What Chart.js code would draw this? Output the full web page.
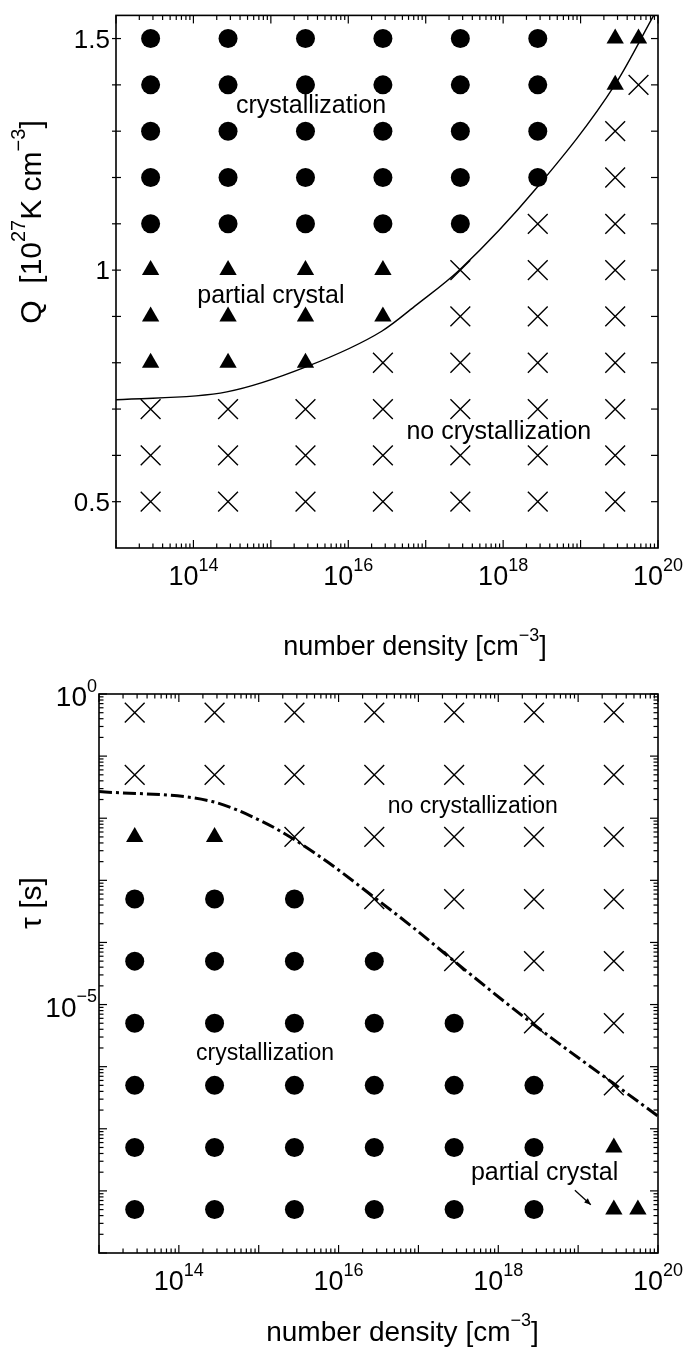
<!DOCTYPE html>
<html>
<head>
<meta charset="utf-8">
<script src="https://cdn.jsdelivr.net/npm/chart.js@4.4.1/dist/chart.umd.min.js"></script>
<style>
  html, body { margin: 0; padding: 0; background: #fff; }
  #wrap { position: relative; width: 689px; height: 1354px; }
  .box { position: absolute; left: 0; width: 689px; }
  #topBox { top: 0; height: 670px; }
  #botBox { top: 660px; height: 694px; }
</style>
</head>
<body>
<div id="wrap">
  <div class="box" id="topBox"><canvas id="qChart" width="689" height="670"></canvas></div>
  <div class="box" id="botBox"><canvas id="tauChart" width="689" height="694"></canvas></div>
</div>
<script>
// number densities of the runs [cm^-3], one per column
var densities = [2.8e13, 2.8e14, 2.8e15, 2.8e16, 2.8e17, 2.8e18, 2.8e19, 5.6e19];

// top panel: heating rate Q rows, outcome per column
// o = crystallization, ^ = partial crystal, x = no crystallization, - = no run
var qRows = [1.5, 1.4, 1.3, 1.2, 1.1, 1.0, 0.9, 0.8, 0.7, 0.6, 0.5];
var qOutcome = [
  'oooooo^^',
  'oooooo^x',
  'oooooox-',
  'oooooox-',
  'oooooxx-',
  '^^^^xxx-',
  '^^^^xxx-',
  '^^^xxxx-',
  'xxxxxxx-',
  'xxxxxxx-',
  'xxxxxxx-'
];
// boundary curve, top panel
var qCurveN = [1e13, 2.7e14, 2.95e15, 2.7e16, 7.6e16, 2.75e17, 2.75e18, 2.8e19, 8.8e19];
var qCurveQ = [0.720, 0.737, 0.792, 0.868, 0.925, 1.001, 1.179, 1.401, 1.55];

// bottom panel: time scale tau rows [s]
var tauRows = [5e-1, 5e-2, 5e-3, 5e-4, 5e-5, 5e-6, 5e-7, 5e-8, 5e-9];
var tauOutcome = [
  'xxxxxxx-',
  'xxxxxxx-',
  '^^xxxxx-',
  'oooxxxx-',
  'ooooxxx-',
  'oooooxx-',
  'oooooox-',
  'oooooo^-',
  'oooooo^^'
];
// boundary curve, bottom panel
var tauCurveN = [1e13, 2.6e14, 1.1e15, 2.6e15, 7.6e15, 2.7e16, 8.3e16, 2.7e17, 2.7e18, 2.7e19, 1e20];
var tauCurveT = [2.7e-2, 1.86e-2, 8.9e-3, 4.8e-3, 1.9e-3, 5.5e-4, 1.8e-4, 5.2e-5, 4.9e-6, 5.5e-7, 1.6e-7];

var FONT = '"Liberation Sans", Arial, Helvetica, sans-serif';

var markers = {
  'o': { pointStyle: 'circle', pointRadius: 9.5, borderWidth: 0 },
  '^': { pointStyle: 'triangle', pointRadius: 10, borderWidth: 0 },
  'x': { pointStyle: 'crossRot', pointRadius: 14, borderWidth: 1.4 }
};

function gridDatasets(rows, outcome) {
  var sets = [];
  Object.keys(markers).forEach(function (k) {
    var pts = [];
    rows.forEach(function (y, r) {
      for (var c = 0; c < densities.length; c++) {
        if (outcome[r].charAt(c) === k) pts.push({ x: densities[c], y: y });
      }
    });
    sets.push(Object.assign({
      type: 'scatter',
      data: pts,
      backgroundColor: '#000',
      borderColor: '#000',
      pointHoverRadius: markers[k].pointRadius
    }, markers[k]));
  });
  return sets;
}

function curveData(xs, ys) {
  return xs.map(function (x, i) { return { x: x, y: ys[i] }; });
}

function setFont(ctx, size) { ctx.font = size + 'px ' + FONT; }

// parts: [text, isSuperscript]
function richWidth(ctx, parts, size) {
  var w = 0;
  parts.forEach(function (p) {
    setFont(ctx, p[1] ? Math.round(size * 0.65) : size);
    w += ctx.measureText(p[0]).width;
  });
  return w;
}
function drawRich(ctx, parts, x, y, size, align) {
  var w = richWidth(ctx, parts, size);
  var cx = align === 'center' ? x - w / 2 : (align === 'right' ? x - w : x);
  ctx.textAlign = 'left';
  ctx.textBaseline = 'alphabetic';
  parts.forEach(function (p) {
    var s = p[1] ? Math.round(size * 0.65) : size;
    setFont(ctx, s);
    ctx.fillText(p[0], cx, p[1] ? y - size * 0.52 : y);
    cx += ctx.measureText(p[0]).width;
  });
}
function seg(ctx, x1, y1, x2, y2) {
  ctx.beginPath(); ctx.moveTo(x1, y1); ctx.lineTo(x2, y2); ctx.stroke();
}

// frame, inward ticks, labels and notes
var frame = {
  id: 'frame',
  afterDatasetsDraw: function (chart, args, o) {
    var ctx = chart.ctx, a = chart.chartArea, xs = chart.scales.x, ys = chart.scales.y;
    ctx.save();
    ctx.strokeStyle = '#000';
    ctx.fillStyle = '#000';
    ctx.lineWidth = 1.6;
    ctx.strokeRect(a.left, a.top, a.right - a.left, a.bottom - a.top);

    ctx.lineWidth = 1.2;
    var e, m, p;
    for (e = 13; e <= 20; e++) {
      for (m = 1; m <= 9; m++) {
        if (e === 20 && m > 1) break;
        p = xs.getPixelForValue(m * Math.pow(10, e));
        var len = m === 1 ? 8 : 4.5;
        seg(ctx, p, a.bottom, p, a.bottom - len);
        seg(ctx, p, a.top, p, a.top + len);
      }
    }
    if (o.logY) {
      for (e = -9; e <= 0; e++) {
        for (m = 1; m <= 9; m++) {
          if (e === 0 && m > 1) break;
          p = ys.getPixelForValue(m * Math.pow(10, e));
          var l2 = m === 1 ? 8 : 4.5;
          seg(ctx, a.left, p, a.left + l2, p);
          seg(ctx, a.right, p, a.right - l2, p);
        }
      }
    } else {
      o.yTicks.forEach(function (v) {
        p = ys.getPixelForValue(v);
        seg(ctx, a.left - 4, p, a.left + 5, p);
        seg(ctx, a.right, p, a.right - 7, p);
      });
    }

    // tick labels
    [14, 16, 18, 20].forEach(function (k) {
      drawRich(ctx, [['10', 0], [String(k), 1]], xs.getPixelForValue(Math.pow(10, k)), a.bottom + 37, o.xTickSize, 'center');
    });
    o.yLabels.forEach(function (lb) {
      drawRich(ctx, lb.parts, a.left - lb.gap, ys.getPixelForValue(lb.v) + o.yTickSize * 0.36 + (lb.dy || 0), o.yTickSize, 'right');
    });

    // axis titles
    drawRich(ctx, o.xTitle, (a.left + a.right) / 2 + o.xTitleShift, o.xTitleY, o.titleSize, 'center');
    ctx.save();
    ctx.translate(o.yTitlePos[0], o.yTitlePos[1]);
    ctx.rotate(-Math.PI / 2);
    drawRich(ctx, o.yTitle, 0, o.yTitleSize * 0.36, o.yTitleSize, 'center');
    ctx.restore();

    // notes inside the plot
    o.notes.forEach(function (n) {
      drawRich(ctx, [[n.text, 0]], xs.getPixelForValue(n.x), ys.getPixelForValue(n.y), n.size || o.noteSize, 'center');
    });
    if (o.arrow) {
      var x1 = xs.getPixelForValue(o.arrow[0]), y1 = ys.getPixelForValue(o.arrow[1]);
      var x2 = xs.getPixelForValue(o.arrow[2]), y2 = ys.getPixelForValue(o.arrow[3]);
      ctx.lineWidth = 1.3;
      seg(ctx, x1, y1, x2, y2);
      var ang = Math.atan2(y2 - y1, x2 - x1);
      ctx.beginPath();
      ctx.moveTo(x2, y2);
      ctx.lineTo(x2 - 7 * Math.cos(ang - 0.4), y2 - 7 * Math.sin(ang - 0.4));
      ctx.lineTo(x2 - 7 * Math.cos(ang + 0.4), y2 - 7 * Math.sin(ang + 0.4));
      ctx.closePath();
      ctx.fill();
    }
    ctx.restore();
  }
};

var qChart = new Chart(document.getElementById('qChart'), {
  type: 'scatter',
  data: {
    datasets: gridDatasets(qRows, qOutcome).concat([{
      type: 'line',
      data: curveData(qCurveN, qCurveQ),
      borderColor: '#000',
      borderWidth: 1.4,
      pointRadius: 0,
      fill: false,
      cubicInterpolationMode: 'monotone'
    }])
  },
  options: {
    responsive: false,
    animation: false,
    layout: { padding: { left: 116, right: 31, top: 4, bottom: 122 } },
    plugins: {
      legend: { display: false },
      tooltip: { enabled: false },
      frame: {
        logY: false,
        yTicks: qRows,
        xTickSize: 27,
        yTickSize: 26,
        yLabels: [
          { v: 1.5, parts: [['1.5', 0]], gap: 6 },
          { v: 1.0, parts: [['1', 0]], gap: 6 },
          { v: 0.5, parts: [['0.5', 0]], gap: 6 }
        ],
        xTitle: [['number density [cm', 0], ['\u22123', 1], [']', 0]],
        xTitleShift: 28,
        xTitleY: 655,
        titleSize: 27,
        yTitle: [['Q  [10', 0], ['27', 1], ['K cm', 0], ['\u22123', 1], [']', 0]],
        yTitlePos: [30, 222],
        yTitleSize: 30,
        noteSize: 25,
        notes: [
          { text: 'crystallization', x: 3.3e15, y: 1.339 },
          { text: 'partial crystal', x: 1e15, y: 0.929 },
          { text: 'no crystallization', x: 8.8e17, y: 0.635 }
        ]
      }
    },
    scales: {
      x: { type: 'logarithmic', min: 1e13, max: 1e20, display: false },
      y: { type: 'linear', min: 0.4, max: 1.55, display: false }
    }
  },
  plugins: [frame]
});

var tauChart = new Chart(document.getElementById('tauChart'), {
  type: 'scatter',
  data: {
    datasets: gridDatasets(tauRows, tauOutcome).concat([{
      type: 'line',
      data: curveData(tauCurveN, tauCurveT),
      borderColor: '#000',
      borderWidth: 3,
      borderDash: [13, 4, 3, 4],
      pointRadius: 0,
      fill: false,
      cubicInterpolationMode: 'monotone'
    }])
  },
  options: {
    responsive: false,
    animation: false,
    layout: { padding: { left: 99, right: 31, top: 34, bottom: 101 } },
    plugins: {
      legend: { display: false },
      tooltip: { enabled: false },
      frame: {
        logY: true,
        xTickSize: 27,
        yTickSize: 28,
        yLabels: [
          { v: 1, parts: [['10', 0], ['0', 1]], gap: 2, dy: 2 },
          { v: 1e-5, parts: [['10', 0], ['\u22125', 1]], gap: 2, dy: 2 }
        ],
        xTitle: [['number density [cm', 0], ['\u22123', 1], [']', 0]],
        xTitleShift: 24,
        xTitleY: 681,
        titleSize: 28,
        yTitle: [['\u03c4 [s]', 0]],
        yTitlePos: [30, 243],
        yTitleSize: 30,
        noteSize: 23,
        notes: [
          { text: 'no crystallization', x: 4.8e17, y: 1.2e-2 },
          { text: 'crystallization', x: 1.2e15, y: 1.26e-6 },
          { text: 'partial crystal', x: 3.8e18, y: 1.48e-8, size: 25 }
        ],
        arrow: [9.1e18, 1.02e-8, 1.44e19, 6.0e-9]
      }
    },
    scales: {
      x: { type: 'logarithmic', min: 1e13, max: 1e20, display: false },
      y: { type: 'logarithmic', min: 1e-9, max: 1, display: false }
    }
  },
  plugins: [frame]
});
</script>
</body>
</html>
